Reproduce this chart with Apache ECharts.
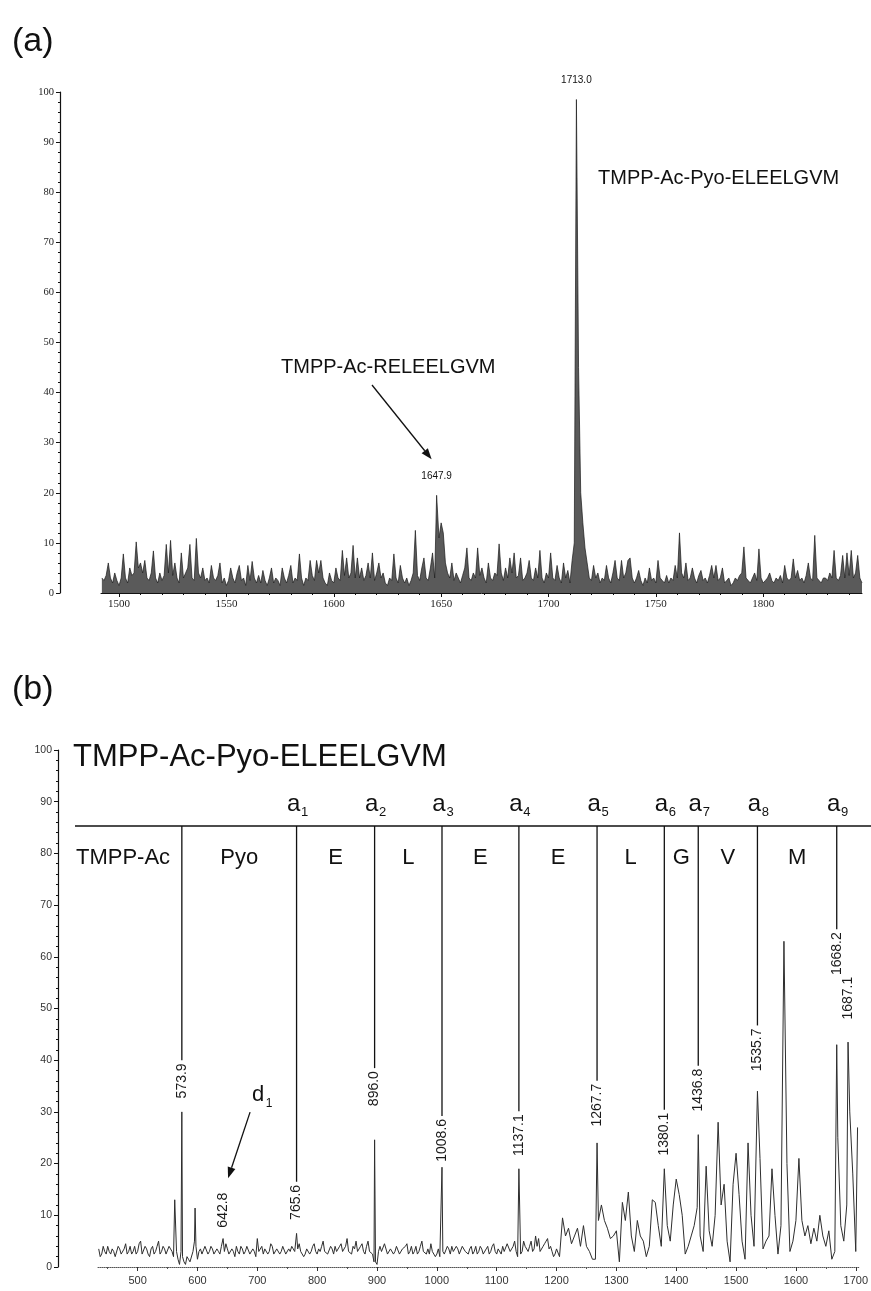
<!DOCTYPE html>
<html>
<head>
<meta charset="utf-8">
<script src="https://cdn.jsdelivr.net/npm/echarts@6/dist/echarts.min.js"></script>
<style>
  html, body { margin: 0; padding: 0; background: #fff; }
  #chart { width: 871px; height: 1291px; }
</style>
</head>
<body>
<div id="chart"></div>
<script>
// ---------- (a) full-scan spectrum: intensity (%) every 1 m/z from 1492 ----------
const specA_start = 1492;
const specA_step = 1;
const specA_intensity = [
  3, 2.5, 3.5, 6, 3, 2, 4, 2.5, 1.5, 3,
  7.8, 3, 2, 5, 3.5, 4, 10.2, 5, 6, 4,
  6.5, 3, 2.5, 4, 8.4, 3, 2, 4, 2.5, 3.5,
  9.7, 4, 10.5, 3.5, 6, 3, 2, 8, 3, 4,
  5, 9.7, 3, 2.5, 10.9, 4, 3, 5, 2.5, 3,
  2, 5.5, 3, 2.5, 3.5, 6, 2, 3, 1.5, 2.5,
  5, 3, 2, 4, 5.5, 2.5, 3, 1.5, 5.5, 2.5,
  6.3, 3, 2, 3.5, 2, 4.5, 2.5, 1.5, 3, 5,
  2, 3, 2.5, 1.5, 5, 3, 2, 3.5, 5.5, 2,
  3, 2.5, 7.8, 3, 1.5, 3, 2.5, 6.5, 3.5, 2.5,
  6.5, 4, 6.5, 3, 2, 1.5, 4, 2.5, 2, 5,
  3, 2.5, 8.5, 3.5, 7, 3, 4, 9.5, 3, 7,
  3, 5, 2.5, 3.5, 6, 3, 8, 2.5, 4, 6,
  3, 4, 2, 1.5, 3, 2.5, 7.8, 3, 2, 5.5,
  3, 2, 3, 1.5, 2.5, 4, 12.5, 3.5, 2.5, 5,
  7, 3, 2.5, 5, 8, 3, 4, 11, 14, 12,
  6, 4, 3, 6, 2.5, 4, 3, 2, 3.5, 5,
  9, 3, 2.5, 4, 3, 9, 3.5, 5, 3, 2,
  6, 3, 2.5, 4, 3.5, 9.8, 4, 2.5, 5, 3,
  7, 4, 8, 3, 3.5, 7, 2.5, 3, 4, 6.5,
  3, 2.5, 5, 3, 8.5, 3, 2, 4, 3, 8,
  3, 2.5, 5.5, 3, 2, 6, 3, 4.5, 2, 6.5,
  10, 60, 45, 20, 14, 9, 6, 3, 2.5, 5.5,
  3, 4, 2, 3, 2.5, 5.5, 3, 2, 4, 6.5,
  3, 2.5, 6.5, 3, 4, 6.5, 7, 3, 2, 3,
  4.5, 2.5, 1.5, 3, 2, 5, 2.5, 3, 2, 6.5,
  3, 2.5, 2, 3.5, 2, 3, 2.5, 5.5, 3, 12,
  4, 3, 6, 2.5, 3, 5, 3, 2, 3.5, 4.5,
  2.5, 3, 2, 3.5, 5.5, 3, 5.5, 2.5, 3, 5,
  2, 2.5, 3, 1.5, 2, 3, 2.5, 3.5, 4, 9.2,
  3, 2.5, 2, 3, 4, 2.5, 8.8, 3, 2, 2.5,
  3, 4, 2.5, 2, 3, 2.5, 3.5, 2, 5.5, 3,
  2.5, 3, 6.8, 3, 4.5, 2.5, 3, 2, 3.5, 6,
  3, 2.5, 11.5, 3, 2.5, 2, 3, 3, 2.5, 4,
  3, 8.5, 3, 2.5, 3.5, 7.5, 3, 8, 3.5, 8.5,
  3, 4, 7.5, 3, 2
];
// labelled peaks of (a): [m/z, intensity]
const specA_peaks = [[1647.9, 19.5], [1713.0, 98.5]];
const specA_ticks = [1500, 1550, 1600, 1650, 1700, 1750, 1800];

// ---------- (b) MS/MS spectrum ----------
// low-mass part: intensity (%) every 2.5 m/z from 435 to 1200
const specB_lowStart = 435;
const specB_lowStep = 2.5;
const specB_low = [
  3.5, 2, 2.5, 4, 3, 2.5, 4, 3, 2.5, 3.5, 3, 2, 2, 4, 3.5, 2.5, 2.5, 3.5, 4.5, 2.5,
  3, 4, 2.5, 3, 4, 2.5, 3, 4.5, 5, 2.5, 2.5, 4, 3.5, 2.5, 2, 3.5, 4, 2.5, 3, 4,
  5, 2.5, 3, 4, 3.5, 2.5, 2.5, 4, 3.5, 3, 2, 2, 3, 1.5, 0.5, 3, 2, 1, 0.5, 2,
  1.5, 1, 1, 3, 5, 4, 1.5, 3, 3.5, 2.5, 2.5, 4, 4, 2.5, 3, 4, 3.5, 2.5, 2.5, 3.5,
  3, 2.5, 4, 3, 3, 4.5, 3.5, 2.5, 2.5, 3.5, 3, 2, 4, 3, 2.5, 4, 3.5, 2.5, 3, 4,
  4, 2.5, 2.5, 3.5, 3, 2, 5.5, 3, 3, 4, 2.5, 3.5, 3.5, 2.5, 3, 4.5, 4, 2.5, 2.5, 3.5,
  3.5, 2.5, 3, 4, 4, 2.5, 2.5, 3.5, 3, 4, 4, 3, 3, 3.5, 4.5, 3, 3, 2, 2.5, 3.5,
  3.5, 2.5, 3, 4, 4.5, 3, 2.5, 3.5, 3, 4, 5, 3, 3, 2.5, 2.5, 4, 3.5, 2.5, 4, 3,
  3, 4, 4.5, 3, 3, 4, 5.5, 3, 3, 2.5, 4, 3.5, 5, 3, 3, 4, 4.5, 3, 2.5, 4,
  5, 3, 3, 2.5, 1, 1, 0.5, 3, 4, 3, 3, 4.5, 4.5, 2.5, 2.5, 3.5, 3.5, 2.5, 3, 4,
  4, 2.5, 2.5, 3.5, 3.5, 4, 4.5, 2.5, 3, 4, 2.5, 3, 4, 2.5, 3, 4, 5, 3, 3, 2.5,
  3.5, 2.5, 4.5, 3, 3, 2, 2.5, 3.5, 2, 2, 3, 2.5, 2.5, 4, 3.5, 2.5, 4, 3, 3, 4,
  3.5, 2.5, 2.5, 4, 4, 3, 3, 2.5, 3.5, 4, 2.5, 3, 4, 2.5, 3, 4, 3.5, 2.5, 2.5, 3.5,
  4, 2.5, 3, 4, 4.5, 3, 2.5, 3.5, 3.5, 2.5, 4, 3, 3, 4.5, 4.5, 3, 3.5, 4, 5, 3,
  2, 1.5, 2.5, 3, 5, 4, 4, 3, 4, 5, 3, 3.5, 6, 4, 5.5, 3, 3, 4, 4.5, 5,
  5.5, 3.5, 4, 3, 2, 2.5, 3.5
];
// high-mass part: intensity (%) every 5 m/z from 1205 to 1700
const specB_highStart = 1205;
const specB_highStep = 5;
const specB_high = [
  2, 9.5, 6, 7.5, 4.5, 6,
  7.5, 4, 8, 4, 3, 1.5, 1.5, 9, 12, 9,
  7.5, 5.5, 6, 7, 1, 12.5, 9, 14.5, 6, 3,
  9, 6, 5, 2, 4, 13, 12.5, 8, 4, 4,
  8, 5, 12, 17, 14, 10, 2.5, 4, 6, 8,
  11.5, 6, 3, 19.5, 7, 4, 10, 28, 12, 16,
  5, 1, 16, 22, 14, 5, 1.5, 24, 10, 4,
  0, 21, 3.5, 5, 6, 19, 10, 2.5, 8, 63,
  20, 3, 5, 9, 21, 9, 6, 8, 4.5, 7.5,
  5, 10, 6, 4, 7, 1.5, 3, 25, 8, 5,
  12, 30, 18, 3
];
// individual peaks of (b): [m/z, intensity]
const specB_peaks = [
  [562, 13], [573.9, 30], [596, 11.4], [642.8, 5.5], [765.6, 6.5], [896.0, 24.6],
  [1008.6, 19.3], [1137.1, 19], [1267.7, 24], [1380.1, 19], [1436.8, 25.6],
  [1535.7, 34], [1668.2, 43], [1687.1, 43.5], [1703, 27]
];
const specB_ticks = [500, 600, 700, 800, 900, 1000, 1100, 1200, 1300, 1400, 1500, 1600, 1700];

// fragment ladder: boundaries (m/z), a-ion index and residues between them
const ladderMz = [573.9, 765.6, 896.0, 1008.6, 1137.1, 1267.7, 1380.1, 1436.8, 1535.7, 1668.2];
const ladderIon = ['', '1', '2', '3', '4', '5', '6', '7', '8', '9'];
const ladderResidues = ['TMPP-Ac', 'Pyo', 'E', 'L', 'E', 'E', 'L', 'G', 'V', 'M'];
// peaks whose m/z is written beside them in (b)
const labelledB = [573.9, 642.8, 765.6, 896.0, 1008.6, 1137.1, 1267.7, 1380.1, 1436.8, 1535.7, 1668.2, 1687.1];

// ---------- layout ----------
const labelCentreB = [36, 11, 12.5, 34.5, 24.5, 25.5, 31.3, 25.7, 34.2, 42, 60.6, 52];
const SANS = '"Liberation Sans", Arial, Helvetica, sans-serif';
const SERIF = '"Liberation Serif", "DejaVu Serif", serif';
const INK = '#111';

function sampled(start, step, values) {
  return values.map((v, i) => ({ x: start + i * step, y: v, step: step }));
}
function mergeSpectrum(samples, peaks) {
  const pts = samples
    .filter(p => !peaks.some(q => Math.abs(q[0] - p.x) < p.step * 0.3))
    .map(p => [p.x, p.y]);
  return pts.concat(peaks.map(p => p.slice())).sort((a, b) => a[0] - b[0]);
}

const specAData = mergeSpectrum(sampled(specA_start, specA_step, specA_intensity), specA_peaks);
const specBData = mergeSpectrum(
  sampled(specB_lowStart, specB_lowStep, specB_low).concat(sampled(specB_highStart, specB_highStep, specB_high)),
  specB_peaks
);

const minorA = [];
for (let v = 1500; v <= 1840; v += 10) if (v % 50) minorA.push(v);
const minorB = [];
for (let v = 450; v <= 1700; v += 50) if (v % 100) minorB.push(v);

const chart = echarts.init(document.getElementById('chart'), null, { renderer: 'canvas' });

const plainNum = v => String(v);

const option = {
  animation: false,
  backgroundColor: '#ffffff',
  grid: [
    { left: 101, top: 92, width: 761, height: 501 },
    { left: 98, top: 750, width: 768, height: 517 }
  ],
  xAxis: [
    {
      gridIndex: 0, type: 'value', min: 1491.6, max: 1846, position: 'bottom',
      axisLine: { show: true, lineStyle: { color: INK, width: 1 } },
      axisTick: { show: true, customValues: specA_ticks, length: 4, lineStyle: { color: INK } },
      axisLabel: { customValues: specA_ticks, formatter: plainNum, fontFamily: SERIF, fontSize: 11, color: '#222', margin: 6 },
      splitLine: { show: false }
    },
    {
      gridIndex: 0, type: 'value', min: 1491.6, max: 1846, position: 'bottom',
      axisLine: { show: false },
      axisTick: { show: true, customValues: minorA, length: 2, lineStyle: { color: INK } },
      axisLabel: { show: false },
      splitLine: { show: false }
    },
    {
      gridIndex: 1, type: 'value', min: 433.8, max: 1705, position: 'bottom',
      axisLine: { show: true, lineStyle: { color: '#555', width: 1, type: 'dotted' } },
      axisTick: { show: true, customValues: specB_ticks, length: 4, lineStyle: { color: '#333' } },
      axisLabel: { customValues: specB_ticks, formatter: plainNum, fontFamily: SANS, fontSize: 11, color: '#333', margin: 8 },
      splitLine: { show: false }
    },
    {
      gridIndex: 1, type: 'value', min: 433.8, max: 1705, position: 'bottom',
      axisLine: { show: false },
      axisTick: { show: true, customValues: minorB, length: 2, lineStyle: { color: '#555' } },
      axisLabel: { show: false },
      splitLine: { show: false }
    }
  ],
  yAxis: [
    {
      gridIndex: 0, type: 'value', min: 0, max: 100, interval: 10, offset: 41,
      axisLine: { show: true, lineStyle: { color: INK, width: 1.2 } },
      axisTick: { show: true, length: 4, lineStyle: { color: INK } },
      minorTick: { show: true, splitNumber: 5, length: 2, lineStyle: { color: INK } },
      axisLabel: { fontFamily: SERIF, fontSize: 10.5, color: '#222', margin: 6 },
      splitLine: { show: false }
    },
    {
      gridIndex: 1, type: 'value', min: 0, max: 100, interval: 10, offset: 40,
      axisLine: { show: true, lineStyle: { color: INK, width: 1.2 } },
      axisTick: { show: true, length: 4, lineStyle: { color: INK } },
      minorTick: { show: true, splitNumber: 5, length: 2, lineStyle: { color: INK } },
      axisLabel: { fontFamily: SANS, fontSize: 10.5, color: '#333', margin: 6 },
      splitLine: { show: false }
    }
  ],
  series: [
    {
      type: 'line', xAxisIndex: 0, yAxisIndex: 0, data: specAData,
      symbol: 'none', silent: true,
      lineStyle: { color: '#1a1a1a', width: 0.7 },
      areaStyle: { color: '#5a5a5a', opacity: 1 }
    },
    {
      type: 'line', xAxisIndex: 2, yAxisIndex: 1, data: specBData,
      symbol: 'none', silent: true,
      lineStyle: { color: '#2e2e2e', width: 1 }
    }
  ]
};
chart.setOption(option);

// ---------- annotations ----------
const measureCtx = document.createElement('canvas').getContext('2d');
function textWidth(str, size, family) {
  measureCtx.font = size + 'px ' + family;
  return measureCtx.measureText(str).width;
}
const pA = v => chart.convertToPixel({ seriesIndex: 0 }, v);
const pB = v => chart.convertToPixel({ seriesIndex: 1 }, v);

const G = [];
function txt(x, y, text, size, opts) {
  opts = opts || {};
  G.push({
    type: 'text', x: x, y: y, rotation: opts.rot || 0, silent: true, z: 100,
    style: {
      text: text, fontSize: size, fontFamily: opts.family || SANS,
      fill: opts.fill || INK, align: opts.align || 'center', verticalAlign: 'middle'
    }
  });
}
function seg(x1, y1, x2, y2, w, c) {
  G.push({ type: 'line', silent: true, z: 100, shape: { x1, y1, x2, y2 },
           style: { stroke: c || INK, lineWidth: w || 1 } });
}
function arrow(x1, y1, x2, y2) {
  const ang = Math.atan2(y2 - y1, x2 - x1);
  const L = 11, W = 4;
  const bx = x2 - L * Math.cos(ang), by = y2 - L * Math.sin(ang);
  const px = -Math.sin(ang) * W, py = Math.cos(ang) * W;
  seg(x1, y1, bx, by, 1.3);
  G.push({ type: 'polygon', silent: true, z: 100,
           shape: { points: [[x2, y2], [bx + px, by + py], [bx - px, by - py]] },
           style: { fill: INK } });
}

// panel letters
txt(12, 42, '(a)', 34, { align: 'left' });
txt(12, 690, '(b)', 34, { align: 'left' });

// (a) peak labels and compound names
specA_peaks.forEach(p => {
  const c = pA(p);
  txt(c[0], c[1] - 19, p[0].toFixed(1), 10);
});
txt(598, 178, 'TMPP-Ac-Pyo-ELEELGVM', 20, { align: 'left' });
txt(281, 367, 'TMPP-Ac-RELEELGVM', 20, { align: 'left' });
{
  const c = pA(specA_peaks[0]);
  arrow(372, 385, c[0] - 5, c[1] - 36);
}

// (b) title and fragment ladder
txt(73, 757, 'TMPP-Ac-Pyo-ELEELGVM', 31, { align: 'left' });
const ladderY = pB([1000, 85.3])[1];
seg(75, ladderY, 871, ladderY, 1.3);

const ladderX = ladderMz.map(m => pB([m, 0])[0]);
const LBL = 14;
labelledB.forEach((m, i) => {
  const c = pB([m, labelCentreB[i]]);
  const s = m.toFixed(1);
  const w = textWidth(s, LBL, SANS);
  txt(c[0], c[1], s, LBL, { rot: Math.PI / 2, fill: '#1a1a1a' });
  const k = ladderMz.indexOf(m);
  if (k >= 0) seg(ladderX[k], ladderY, ladderX[k], c[1] - w / 2 - 3, 1.3);
});

// a-ion names above the ladder
const ionY = pB([1000, 89.4])[1];
ladderIon.forEach((n, i) => {
  if (!n) return;
  const x = ladderX[i];
  txt(x - 3, ionY, 'a', 24, { align: 'center' });
  txt(x + 8, ionY + 8, n, 13, { align: 'center' });
});

// residues between ladder boundaries
const resY = pB([1000, 79.1])[1];
ladderResidues.forEach((r, i) => {
  if (i === 0) { txt(76, resY, r, 22, { align: 'left' }); return; }
  const xl = ladderX[i - 1], xr = ladderX[i];
  txt((xl + xr) / 2, resY, r, 22);
});

// d1 marker pointing at the 642.8 fragment
{
  const c = pB([642.8, labelCentreB[1]]);
  txt(c[0] + 35, c[1] - 115, 'd', 22);
  txt(c[0] + 46, c[1] - 106, '1', 12);
  arrow(c[0] + 27, c[1] - 98, c[0] + 5, c[1] - 32);
}

chart.setOption({ graphic: { elements: G } });
</script>
</body>
</html>
